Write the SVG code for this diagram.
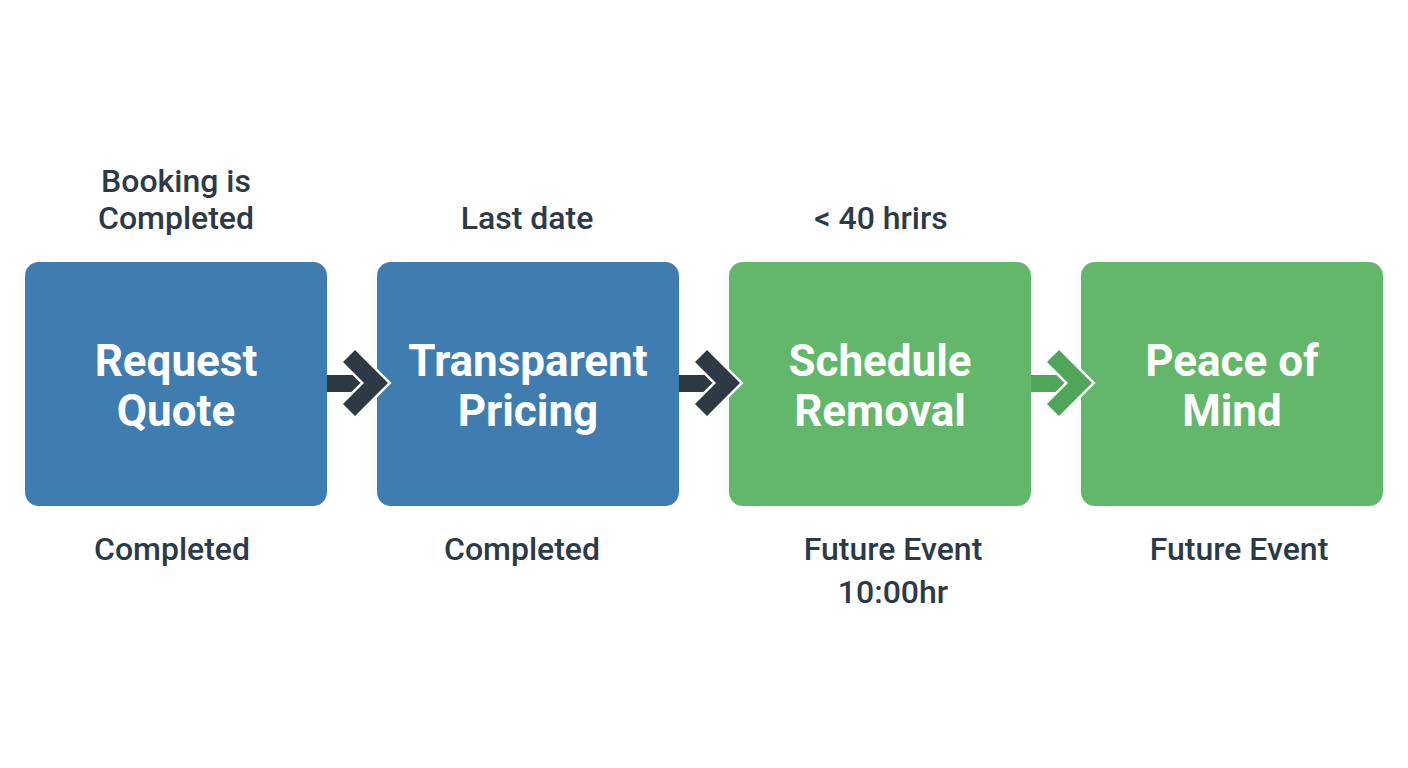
<svg xmlns="http://www.w3.org/2000/svg" width="1408" height="768" viewBox="0 0 1408 768">
<style>
.b{fill:#3f7cb0}.g{fill:#63b76a}
.t{font-family:Roboto,"Liberation Sans",sans-serif;font-weight:bold;font-size:44px;fill:#fff;text-anchor:middle}
.l{font-family:Roboto,"Liberation Sans",sans-serif;font-weight:500;font-size:32px;fill:#2c3a47;text-anchor:middle}
.ad{fill:#2d3a46}.ag{fill:#4fa55a}
.ch{stroke:#fff;stroke-width:5;paint-order:stroke;stroke-linejoin:miter}
</style>
<rect width="1408" height="768" fill="#fff"/>
<g id="n1"><rect class="b" x="25" y="262" width="302" height="244" rx="14"/><text class="t" x="176" y="376">Request</text><text class="t" x="176" y="426">Quote</text><text class="l" x="176" y="192">Booking is</text><text class="l" x="176" y="229">Completed</text><text class="l" x="172" y="560">Completed</text></g>
<g id="n2"><rect class="b" x="377" y="262" width="302" height="244" rx="14"/><text class="t" x="528" y="376">Transparent</text><text class="t" x="528" y="426">Pricing</text><text class="l" x="527" y="229">Last date</text><text class="l" x="522" y="560">Completed</text></g>
<g id="n3"><rect class="g" x="729" y="262" width="302" height="244" rx="14"/><text class="t" x="880" y="376">Schedule</text><text class="t" x="880" y="426">Removal</text><text class="l" x="881" y="229">&lt; 40 hrirs</text><text class="l" x="893" y="560">Future Event</text><text class="l" x="893" y="603">10:00hr</text></g>
<g id="n4"><rect class="g" x="1081" y="262" width="302" height="244" rx="14"/><text class="t" x="1232" y="376">Peace of</text><text class="t" x="1232" y="426">Mind</text><text class="l" x="1239" y="560">Future Event</text></g>
<g id="connectors">
<g class="ad"><rect x="327" y="375" width="38" height="17"/><polygon class="ch" points="355,350 388,383 355,416 343,404 364,383 343,362"/></g>
<g class="ad"><rect x="679" y="375" width="38" height="17"/><polygon class="ch" points="707,350 740,383 707,416 695,404 716,383 695,362"/></g>
<g class="ag"><rect x="1031" y="375" width="38" height="17"/><polygon class="ch" points="1059,350 1092,383 1059,416 1047,404 1068,383 1047,362"/></g>
</g>
</svg>
